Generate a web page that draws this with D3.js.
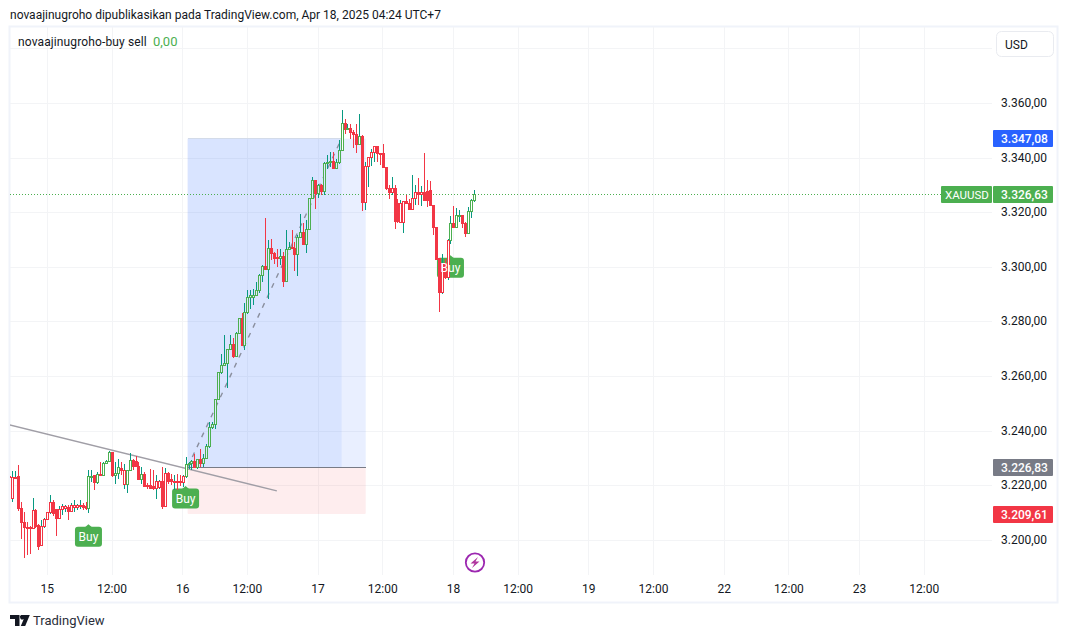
<!DOCTYPE html>
<html>
<head>
<meta charset="utf-8">
<script src="https://cdn.jsdelivr.net/npm/d3@7/dist/d3.min.js"></script>
<style>
  html, body { margin: 0; background: #fff; }
  svg { display: block; font-family: Roboto, sans-serif; }
  text { fill: #131722; }
</style>
</head>
<body>
<svg id="chart" width="1068" height="638"></svg>
<script>
// 30 minute candles, index 0 = first bar on the left edge
const opens = [
  3223.4,3215.3,3222.7,3223.4,3211.6,3206.4,3204.6,3204.6,3204.3,3211.0,
  3205.5,3198.2,3204.9,3207.6,3210.0,3213.8,3211.2,3207.9,3211.2,3211.6,
  3212.0,3210.4,3212.0,3212.0,3212.2,3212.8,3212.5,3211.6,3223.2,3223.8,
  3221.0,3224.2,3223.6,3228.1,3228.7,3232.0,3223.8,3224.4,3226.2,3220.4,
  3220.4,3225.4,3229.1,3228.7,3227.2,3222.3,3224.0,3220.0,3220.0,3219.8,
  3218.9,3219.5,3221.4,3212.5,3224.4,3222.3,3221.4,3221.6,3221.6,3221.0,
  3223.2,3227.7,3228.3,3228.7,3226.6,3229.5,3228.3,3229.9,3234.2,3241.2,
  3242.5,3251.5,3261.3,3264.1,3264.7,3269.8,3271.6,3267.4,3275.7,3281.2,
  3271.2,3283.4,3288.9,3288.9,3289.8,3291.5,3296.9,3300.3,3299.3,3306.8,
  3305.2,3303.7,3303.1,3304.0,3294.6,3306.4,3307.2,3306.8,3304.6,3311.0,
  3312.6,3308.2,3313.7,3325.1,3331.8,3326.9,3330.0,3327.9,3337.9,3338.2,
  3338.9,3336.3,3338.3,3342.8,3352.6,3350.5,3350.7,3349.5,3348.5,3345.0,
  3347.9,3323.6,3336.9,3340.1,3342.2,3344.3,3341.6,3341.6,3336.5,3328.8,
  3327.5,3328.8,3323.3,3316.3,3316.3,3323.9,3323.5,3321.1,3325.1,3327.3,
  3326.6,3327.3,3327.9,3328.2,3322.7,3314.7,3303.1,3290.9,3301.3,3296.1,
  3309.8,3316.0,3314.7,3318.8,3319.0,3316.0,3312.3,3320.5,3324.5
];
const closes = [
  3223.2,3223.0,3223.1,3211.6,3206.4,3204.6,3204.5,3204.4,3211.0,3205.1,
  3197.8,3204.9,3207.6,3210.0,3213.8,3209.8,3207.9,3211.2,3212.2,3212.2,
  3210.4,3212.6,3212.6,3212.8,3212.8,3212.0,3211.6,3223.4,3223.4,3221.0,
  3224.2,3224.0,3228.3,3228.7,3232.0,3223.6,3224.4,3226.6,3225.6,3225.4,
  3225.4,3229.3,3227.2,3227.2,3222.3,3224.2,3219.8,3219.8,3218.9,3218.9,
  3221.4,3221.6,3212.5,3224.4,3221.6,3221.4,3221.6,3221.4,3221.4,3223.4,
  3227.7,3228.3,3228.7,3226.6,3229.5,3228.3,3229.9,3234.2,3241.2,3242.5,
  3251.5,3261.3,3264.1,3264.7,3269.8,3271.6,3267.4,3275.7,3281.2,3271.2,
  3283.4,3288.9,3289.8,3289.8,3291.5,3296.9,3300.1,3299.3,3306.8,3305.2,
  3303.1,3303.1,3304.0,3294.6,3306.4,3307.4,3306.8,3304.6,3311.0,3312.6,
  3308.2,3313.7,3325.1,3331.8,3326.9,3330.0,3327.9,3337.9,3338.2,3338.9,
  3336.3,3338.3,3342.8,3352.6,3350.5,3350.7,3349.5,3348.5,3345.0,3347.9,
  3323.6,3336.9,3340.1,3342.2,3344.3,3341.6,3341.3,3336.5,3328.8,3327.5,
  3328.8,3316.6,3316.6,3323.3,3323.9,3323.5,3321.1,3325.1,3327.3,3326.6,
  3327.3,3324.5,3324.3,3322.7,3314.7,3302.9,3290.9,3301.3,3296.1,3309.8,
  3316.0,3314.7,3318.9,3319.0,3316.0,3312.3,3320.5,3324.5,3326.63
];
const highs = [
  3225.6,3225.3,3225.3,3227.5,3214.0,3210.4,3206.7,3205.1,3215.6,3211.5,
  3206.1,3207.3,3208.3,3210.3,3216.5,3214.7,3211.6,3212.4,3213.4,3212.8,
  3212.8,3213.7,3214.9,3213.4,3214.7,3213.7,3214.0,3225.6,3225.9,3223.8,
  3225.0,3228.7,3228.7,3229.5,3232.7,3232.3,3228.7,3229.9,3228.7,3228.1,
  3225.6,3232.1,3229.9,3230.8,3228.7,3226.9,3225.0,3221.0,3226.2,3225.9,
  3223.8,3222.2,3226.9,3226.6,3225.0,3224.4,3223.8,3224.4,3223.8,3223.8,
  3230.5,3228.7,3229.5,3231.7,3229.9,3233.6,3231.5,3235.4,3243.3,3243.3,
  3251.9,3261.6,3268.1,3275.1,3270.2,3275.3,3274.2,3276.3,3281.4,3283.4,
  3287.0,3291.5,3291.5,3292.1,3294.6,3297.5,3300.7,3317.9,3309.8,3310.5,
  3305.6,3306.8,3306.8,3305.6,3313.5,3309.2,3313.5,3309.2,3311.7,3319.4,
  3316.3,3317.2,3325.5,3333.0,3332.1,3330.3,3330.6,3338.5,3341.0,3342.2,
  3342.2,3339.8,3346.7,3357.7,3354.4,3352.6,3352.6,3350.4,3352.3,3356.0,
  3348.3,3338.5,3340.1,3343.2,3344.4,3344.4,3341.6,3345.2,3336.5,3330.0,
  3333.0,3330.0,3325.1,3324.7,3323.9,3326.3,3325.1,3333.6,3330.0,3332.7,
  3329.6,3342.0,3331.8,3331.6,3322.7,3314.7,3303.1,3304.7,3303.0,3310.5,
  3318.6,3322.3,3321.8,3320.8,3319.0,3316.6,3322.0,3325.1,3328.2
];
const lows = [
  3209.2,3214.0,3222.5,3210.7,3200.6,3193.7,3194.5,3195.1,3204.2,3204.6,
  3196.6,3197.8,3204.6,3207.3,3209.8,3208.8,3201.5,3207.8,3209.2,3210.4,
  3207.3,3210.3,3210.4,3211.2,3211.6,3211.2,3211.2,3210.0,3221.4,3218.3,
  3220.8,3223.8,3223.4,3227.8,3228.6,3223.2,3220.5,3222.3,3223.8,3218.9,
  3217.3,3225.3,3225.6,3226.9,3222.0,3220.8,3219.5,3218.9,3218.7,3218.6,
  3215.3,3218.9,3211.6,3212.2,3220.8,3220.1,3218.3,3218.3,3219.9,3219.5,
  3222.9,3226.2,3225.9,3226.6,3226.2,3226.8,3226.8,3229.8,3233.9,3240.9,
  3240.9,3251.3,3261.0,3264.0,3255.9,3269.6,3266.8,3267.1,3275.4,3271.2,
  3269.6,3283.0,3284.8,3286.0,3289.7,3290.5,3294.6,3299.3,3288.5,3302.8,
  3301.3,3300.1,3301.0,3292.8,3294.5,3306.2,3306.8,3298.8,3296.7,3310.8,
  3308.0,3305.2,3313.5,3324.9,3321.2,3325.4,3326.3,3326.3,3336.1,3336.7,
  3336.1,3336.1,3337.9,3342.5,3348.9,3350.1,3347.1,3343.6,3341.8,3344.6,
  3320.6,3320.8,3329.4,3337.1,3338.5,3338.5,3337.3,3336.5,3328.4,3324.9,
  3326.3,3313.9,3316.2,3316.2,3312.7,3323.3,3320.8,3320.8,3322.7,3322.7,
  3322.3,3324.3,3322.0,3322.3,3311.7,3302.5,3283.6,3290.3,3295.8,3295.2,
  3308.4,3314.5,3314.5,3316.6,3314.5,3311.1,3312.0,3318.0,3323.9
];
// up bars the buy/sell script paints red instead of green
const sellBars = [1,2,8,11,12,13,14,17,18,19,21,22,23,24,39,50,51,53,56,59,
  121,122,123,124,130,133,134,137,138,140,147,149];

const priceTicks = [3380,3360,3340,3320,3300,3280,3260,3240,3220,3200];
const timeTickBars = [13,35,59,81,105,127,151,173,197,219,243,265,289,311];
const timeTickLabels = ['15','12:00','16','12:00','17','12:00','18','12:00','19','12:00','22','12:00','23','12:00'];

const lastPrice = 3326.63;
const targetPrice = 3347.08;
const entryPrice = 3226.83;
const stopPrice = 3209.61;
// position tool, in bars: start, end of the move, end of the box
const positionBars = [60.7, 113, 121.2];
const trendBars = [0, 91];
const trendPrices = [3242.3, 3218.1];
const buyBars = [27, 60, 150];
const buyPrices = [3205.9, 3219.9, 3304.4];

const GREEN = '#4caf50', RED = '#f23645', TEAL = '#089981', BLUE = '#2962ff';
const GRID = '#f3f4f6';

const paneLeft = 10, paneRight = 992, paneTop = 27, paneBottom = 575;

const x = d3.scaleLinear().domain([0, 311]).range([9.0, 924.3]);
const y = d3.scaleLinear().domain([3200, 3360]).range([540.3, 103.4]);
const fmt = d3.formatLocale({ decimal: ',', thousands: '.', grouping: [3] }).format(',.2f');

const svg = d3.select('#chart');

svg.append('defs').append('clipPath').attr('id', 'pane')
  .append('rect')
  .attr('x', paneLeft).attr('y', paneTop)
  .attr('width', paneRight - paneLeft).attr('height', paneBottom - paneTop);

// header and frame
svg.append('text').attr('x', 10).attr('y', 19).attr('font-size', 12)
  .text('novaajinugroho dipublikasikan pada TradingView.com, Apr 18, 2025 04:24 UTC+7');
svg.append('rect')
  .attr('x', 9.5).attr('y', 26.5).attr('width', 1048).attr('height', 576)
  .attr('fill', 'none').attr('stroke', '#f0f3fa').attr('stroke-width', 2);

// grid
const grid = svg.append('g').attr('shape-rendering', 'crispEdges');
grid.selectAll('.h').data(priceTicks).join('line')
  .attr('x1', paneLeft).attr('x2', paneRight)
  .attr('y1', d => y(d)).attr('y2', d => y(d))
  .attr('stroke', GRID);
grid.selectAll('.v').data(timeTickBars).join('line')
  .attr('x1', d => x(d)).attr('x2', d => x(d))
  .attr('y1', paneTop).attr('y2', paneBottom)
  .attr('stroke', GRID);

const plot = svg.append('g').attr('clip-path', 'url(#pane)');

// position tool
const pos = plot.append('g');
pos.append('rect')
  .attr('x', x(positionBars[0])).attr('y', y(entryPrice))
  .attr('width', x(positionBars[2]) - x(positionBars[0]))
  .attr('height', y(stopPrice) - y(entryPrice))
  .attr('rx', 1)
  .attr('fill', '#f23645').attr('fill-opacity', 0.09);
pos.append('rect')
  .attr('x', x(positionBars[0])).attr('y', y(targetPrice))
  .attr('width', x(positionBars[2]) - x(positionBars[0]))
  .attr('height', y(entryPrice) - y(targetPrice))
  .attr('fill', BLUE).attr('fill-opacity', 0.1);
pos.append('rect')
  .attr('x', x(positionBars[0])).attr('y', y(targetPrice))
  .attr('width', x(positionBars[1]) - x(positionBars[0]))
  .attr('height', y(entryPrice) - y(targetPrice))
  .attr('fill', BLUE).attr('fill-opacity', 0.08);
pos.append('line')
  .attr('x1', x(positionBars[0])).attr('x2', x(positionBars[1]))
  .attr('y1', y(targetPrice)).attr('y2', y(targetPrice))
  .attr('stroke', '#d3dbe9').attr('shape-rendering', 'crispEdges');
pos.append('line')
  .attr('x1', x(positionBars[0])).attr('x2', x(positionBars[2]))
  .attr('y1', y(entryPrice)).attr('y2', y(entryPrice))
  .attr('stroke', '#787b86').attr('shape-rendering', 'crispEdges');
pos.append('line')
  .attr('x1', x(positionBars[0])).attr('x2', x(positionBars[1]))
  .attr('y1', y(entryPrice)).attr('y2', y(targetPrice))
  .attr('stroke', '#8a8f9e').attr('stroke-width', 1.4).attr('stroke-dasharray', '5 6');

// trend line
plot.append('line')
  .attr('x1', x(trendBars[0])).attr('x2', x(trendBars[1]))
  .attr('y1', y(trendPrices[0])).attr('y2', y(trendPrices[1]))
  .attr('stroke', '#a09ea6').attr('stroke-width', 1.3);

// buy markers: the box sits under the candles, the word above them
const buy = plot.selectAll('.buy').data(buyBars).join('g')
  .attr('transform', (d, i) => `translate(${x(d)},${y(buyPrices[i])})`);
buy.append('path').attr('d', 'M-3.5,3 L0,0 L3.5,3 Z').attr('fill', GREEN);
buy.append('rect')
  .attr('x', -13.5).attr('y', 2.5).attr('width', 27).attr('height', 20).attr('rx', 3)
  .attr('fill', GREEN);

// last price line
plot.append('line')
  .attr('x1', paneLeft).attr('x2', 941)
  .attr('y1', Math.floor(y(lastPrice)) + 0.5).attr('y2', Math.floor(y(lastPrice)) + 0.5)
  .attr('stroke', GREEN).attr('stroke-dasharray', '1 2')
  .attr('shape-rendering', 'crispEdges');

// candles
const bars = d3.range(opens.length);
const isUp = i => closes[i] >= opens[i];
const bodyColor = i => (isUp(i) && !sellBars.includes(i)) ? GREEN : RED;
const wickColor = i => isUp(i) ? TEAL : RED;

const candles = plot.append('g').attr('shape-rendering', 'crispEdges');
candles.selectAll('.wick').data(bars).join('line')
  .attr('x1', i => Math.round(x(i)) + 0.5).attr('x2', i => Math.round(x(i)) + 0.5)
  .attr('y1', i => y(highs[i])).attr('y2', i => y(lows[i]))
  .attr('stroke', wickColor);
// hollow bars: hide the wick inside the body
candles.selectAll('.gap').data(bars.filter(isUp)).join('line')
  .attr('x1', i => Math.round(x(i)) + 0.5).attr('x2', i => Math.round(x(i)) + 0.5)
  .attr('y1', i => y(closes[i])).attr('y2', i => y(opens[i]))
  .attr('stroke', i => i > positionBars[0] && i < positionBars[1] ? '#dfe8fe' : '#ffffff');
candles.selectAll('.body').data(bars).join('rect')
  .attr('x', i => Math.round(x(i)) - 0.5)
  .attr('width', 2)
  .attr('y', i => y(Math.max(opens[i], closes[i])))
  .attr('height', i => Math.max(1, Math.abs(y(opens[i]) - y(closes[i]))))
  .attr('fill', i => isUp(i) ? 'none' : RED)
  .attr('stroke', bodyColor);

plot.selectAll('.buy-text').data(buyBars).join('text')
  .attr('x', d => x(d))
  .attr('y', (d, i) => y(buyPrices[i]) + 17)
  .attr('text-anchor', 'middle').attr('font-size', 12)
  .style('fill', '#fff').text('Buy');

// axes
const priceAxis = svg.append('g')
  .attr('transform', 'translate(1001,-0.7)')
  .call(d3.axisRight(y).tickValues(priceTicks.slice(1)).tickFormat(fmt).tickSize(0).tickPadding(0));
priceAxis.select('.domain').remove();
priceAxis.selectAll('text').attr('font-size', 12).attr('font-family', 'Roboto, sans-serif');

const timeAxis = svg.append('g')
  .attr('transform', 'translate(-0.5,584)')
  .call(d3.axisBottom(x).tickValues(timeTickBars)
    .tickFormat((d, i) => timeTickLabels[i]).tickSize(0).tickPadding(0));
timeAxis.select('.domain').remove();
timeAxis.selectAll('text').attr('font-size', 12).attr('font-family', 'Roboto, sans-serif');

// price labels on the scale
const tags = [
  { v: targetPrice, c: BLUE },
  { v: lastPrice, c: GREEN },
  { v: entryPrice, c: '#787b86' },
  { v: stopPrice, c: RED }
];
const tag = svg.selectAll('.tag').data(tags).join('g')
  .attr('transform', d => `translate(993,${Math.floor(y(d.v)) + 0.5})`);
tag.append('rect').attr('y', -8.5).attr('width', 60).attr('height', 17).attr('rx', 1)
  .attr('fill', d => d.c);
tag.append('text').attr('x', 8).attr('y', 4).attr('font-size', 12).attr('font-weight', 500)
  .style('fill', '#fff').text(d => fmt(d.v));

const symbolTag = svg.append('g').attr('transform', `translate(941,${Math.floor(y(lastPrice)) + 0.5})`);
symbolTag.append('rect').attr('y', -8.5).attr('width', 51).attr('height', 17).attr('rx', 1).attr('fill', GREEN);
symbolTag.append('text').attr('x', 4).attr('y', 4).attr('font-size', 11.5)
  .style('fill', '#fff').text('XAUUSD');

// legend and currency button
const legend = svg.append('text').attr('x', 18).attr('y', 46).attr('font-size', 12);
legend.append('tspan').attr('letter-spacing', 0.13).text('novaajinugroho-buy sell');
legend.append('tspan').attr('x', 153).attr('font-size', 13).style('fill', GREEN).text('0,00');

svg.append('rect').attr('x', 996.5).attr('y', 31.5).attr('width', 57).attr('height', 25).attr('rx', 5)
  .attr('fill', '#fff').attr('stroke', '#e9ebf0');
svg.append('text').attr('x', 1005).attr('y', 49).attr('font-size', 12).text('USD');

// lightning marker under the last bars
svg.append('circle').attr('cx', 475).attr('cy', 562.5).attr('r', 9.2)
  .attr('fill', '#fff').attr('stroke', '#9c27b0').attr('stroke-width', 1.8);
svg.append('path')
  .attr('d', 'M478,557 L470.5,563.5 L474.5,563.5 L472,568 L479.5,561.5 L475.5,561.5 Z')
  .attr('fill', '#b0359f');

// footer logo
svg.append('path')
  .attr('d', 'M10,615 h9.5 v11 h-4.5 v-7 h-5 Z M21,615 h8.8 l-4.6,11 h-4.4 l3,-7 a2,2 0 1 1 -2.8,-4 Z')
  .attr('fill', '#131722');
svg.append('text').attr('x', 33).attr('y', 625).attr('font-size', 13).style('fill', '#2a2e39').text('TradingView');
</script>
</body>
</html>
